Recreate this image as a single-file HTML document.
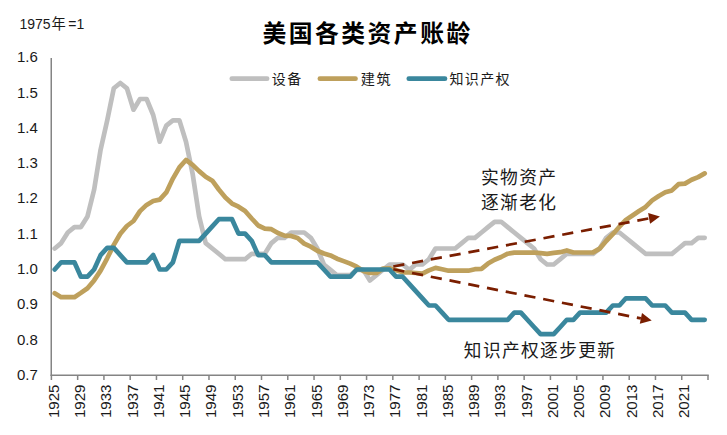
<!DOCTYPE html>
<html lang="zh"><head><meta charset="utf-8"><title>美国各类资产账龄</title>
<style>html,body{margin:0;padding:0;background:#fff;}body{width:727px;height:435px;overflow:hidden;font-family:"Liberation Sans",sans-serif;}</style>
</head><body>
<svg width="727" height="435" viewBox="0 0 727 435" style="display:block">
<rect width="727" height="435" fill="#fff"/>
<g stroke="#848484" stroke-width="1.5" fill="none"><path d="M51.25 58.0 V375.9" /><path d="M50.6 375.2 H708.8" /><path d="M51.40 375.2 v4.8M77.66 375.2 v4.8M103.93 375.2 v4.8M130.19 375.2 v4.8M156.46 375.2 v4.8M182.72 375.2 v4.8M208.98 375.2 v4.8M235.25 375.2 v4.8M261.51 375.2 v4.8M287.78 375.2 v4.8M314.04 375.2 v4.8M340.30 375.2 v4.8M366.57 375.2 v4.8M392.83 375.2 v4.8M419.10 375.2 v4.8M445.36 375.2 v4.8M471.62 375.2 v4.8M497.89 375.2 v4.8M524.15 375.2 v4.8M550.42 375.2 v4.8M576.68 375.2 v4.8M602.94 375.2 v4.8M629.21 375.2 v4.8M655.47 375.2 v4.8M681.74 375.2 v4.8M708.00 375.2 v4.8" /></g>
<g font-family="'Liberation Sans', sans-serif" font-size="15" fill="#1a1a1a" text-anchor="end">
<text x="37.76" y="62.33">1.6</text>
<text x="37.76" y="97.62">1.5</text>
<text x="37.76" y="132.90">1.4</text>
<text x="37.76" y="168.19">1.3</text>
<text x="37.76" y="203.47">1.2</text>
<text x="37.76" y="238.76">1.1</text>
<text x="37.76" y="274.04">1.0</text>
<text x="37.76" y="309.33">0.9</text>
<text x="37.76" y="344.61">0.8</text>
<text x="37.76" y="379.90">0.7</text>
</g>
<g font-family="'Liberation Sans', sans-serif" font-size="15.1" fill="#1a1a1a" text-anchor="end">
<text transform="translate(58.88,384.50) rotate(-90)">1925</text>
<text transform="translate(85.15,384.50) rotate(-90)">1929</text>
<text transform="translate(111.41,384.50) rotate(-90)">1933</text>
<text transform="translate(137.67,384.50) rotate(-90)">1937</text>
<text transform="translate(163.94,384.50) rotate(-90)">1941</text>
<text transform="translate(190.20,384.50) rotate(-90)">1945</text>
<text transform="translate(216.47,384.50) rotate(-90)">1949</text>
<text transform="translate(242.73,384.50) rotate(-90)">1953</text>
<text transform="translate(268.99,384.50) rotate(-90)">1957</text>
<text transform="translate(295.26,384.50) rotate(-90)">1961</text>
<text transform="translate(321.52,384.50) rotate(-90)">1965</text>
<text transform="translate(347.79,384.50) rotate(-90)">1969</text>
<text transform="translate(374.05,384.50) rotate(-90)">1973</text>
<text transform="translate(400.31,384.50) rotate(-90)">1977</text>
<text transform="translate(426.58,384.50) rotate(-90)">1981</text>
<text transform="translate(452.84,384.50) rotate(-90)">1985</text>
<text transform="translate(479.11,384.50) rotate(-90)">1989</text>
<text transform="translate(505.37,384.50) rotate(-90)">1993</text>
<text transform="translate(531.63,384.50) rotate(-90)">1997</text>
<text transform="translate(557.90,384.50) rotate(-90)">2001</text>
<text transform="translate(584.16,384.50) rotate(-90)">2005</text>
<text transform="translate(610.43,384.50) rotate(-90)">2009</text>
<text transform="translate(636.69,384.50) rotate(-90)">2013</text>
<text transform="translate(662.96,384.50) rotate(-90)">2017</text>
<text transform="translate(689.22,384.50) rotate(-90)">2021</text>
</g>
<polyline points="54.7,248.5 61.2,243.1 67.8,232.5 74.4,227.1 80.9,227.1 87.5,216.4 94.1,189.8 100.6,149.7 107.2,120.4 113.8,88.3 120.3,83.0 126.9,88.3 133.5,109.7 140.0,99.0 146.6,99.0 153.2,115.0 159.7,141.7 166.3,125.7 172.9,120.4 179.4,120.4 186.0,141.7 192.6,173.7 199.1,216.4 205.7,243.1 212.3,248.5 218.8,253.8 225.4,259.2 232.0,259.2 238.5,259.2 245.1,259.2 251.7,253.8 258.2,253.8 264.8,253.8 271.4,243.1 277.9,237.8 284.5,237.8 291.1,232.5 297.6,232.5 304.2,232.5 310.8,237.8 317.3,248.5 323.9,264.5 330.5,269.8 337.0,275.2 343.6,275.2 350.2,275.2 356.7,269.8 363.3,269.8 369.9,280.5 376.4,275.2 383.0,269.8 389.5,264.5 396.1,264.5 402.7,264.5 409.2,269.8 415.8,264.5 422.4,264.5 428.9,259.2 435.5,248.5 442.1,248.5 448.6,248.5 455.2,248.5 461.8,243.1 468.3,237.8 474.9,237.8 481.5,232.5 488.0,227.1 494.6,221.8 501.2,221.8 507.7,227.1 514.3,232.5 520.9,237.8 527.4,243.1 534.0,248.5 540.6,259.2 547.1,264.5 553.7,264.5 560.3,259.2 566.8,253.8 573.4,253.8 580.0,253.8 586.5,253.8 593.1,253.8 599.7,248.5 606.2,237.8 612.8,232.5 619.4,232.5 625.9,237.8 632.5,243.1 639.1,248.5 645.6,253.8 652.2,253.8 658.8,253.8 665.3,253.8 671.9,253.8 678.5,248.5 685.0,243.1 691.6,243.1 698.2,237.8 704.7,237.8" fill="none" stroke="#BFBFBF" stroke-width="4.7" stroke-linejoin="round" stroke-linecap="round"/>
<polyline points="54.7,293.2 61.2,297.2 67.8,297.2 74.4,297.2 80.9,292.9 87.5,288.3 94.1,280.4 100.6,270.6 107.2,258.3 113.8,244.9 120.3,233.8 126.9,226.0 133.5,221.0 140.0,211.1 146.6,204.9 153.2,201.0 159.7,199.6 166.3,192.4 172.9,178.6 179.4,167.3 186.0,160.0 192.6,164.9 199.1,171.1 205.7,176.7 212.3,180.7 218.8,189.5 225.4,197.6 232.0,203.6 238.5,206.7 245.1,211.0 251.7,218.5 258.2,225.5 264.8,228.6 271.4,229.2 277.9,233.0 284.5,235.6 291.1,235.9 297.6,238.0 304.2,243.6 310.8,246.7 317.3,250.8 323.9,253.5 330.5,255.4 337.0,258.7 343.6,261.1 350.2,263.6 356.7,266.7 363.3,270.9 369.9,273.0 376.4,273.0 383.0,268.5 389.5,268.3 396.1,270.2 402.7,272.3 409.2,272.5 415.8,273.0 422.4,273.6 428.9,270.4 435.5,267.9 442.1,269.2 448.6,270.7 455.2,270.7 461.8,270.7 468.3,270.7 474.9,269.2 481.5,268.8 488.0,263.6 494.6,259.7 501.2,257.0 507.7,253.7 514.3,252.6 520.9,252.6 527.4,252.6 534.0,252.5 540.6,253.1 547.1,253.8 553.7,252.9 560.3,252.2 566.8,250.4 573.4,252.5 580.0,252.5 586.5,252.5 593.1,252.4 599.7,248.6 606.2,241.0 612.8,234.2 619.4,226.7 625.9,219.9 632.5,215.5 639.1,211.0 645.6,206.9 652.2,200.4 658.8,196.0 665.3,192.3 671.9,190.4 678.5,184.2 685.0,183.6 691.6,179.8 698.2,177.1 704.7,173.4" fill="none" stroke="#BEA05C" stroke-width="4.7" stroke-linejoin="round" stroke-linecap="round"/>
<polyline points="54.7,269.5 61.2,262.3 67.8,262.3 74.4,262.3 80.9,276.7 87.5,276.7 94.1,269.5 100.6,255.1 107.2,247.9 113.8,247.9 120.3,255.1 126.9,262.3 133.5,262.3 140.0,262.3 146.6,262.3 153.2,255.1 159.7,269.5 166.3,269.5 172.9,262.3 179.4,240.8 186.0,240.8 192.6,240.8 199.1,240.8 205.7,233.6 212.3,226.4 218.8,219.2 225.4,219.2 232.0,219.2 238.5,233.6 245.1,233.6 251.7,240.8 258.2,255.1 264.8,255.1 271.4,262.3 277.9,262.3 284.5,262.3 291.1,262.3 297.6,262.3 304.2,262.3 310.8,262.3 317.3,262.3 323.9,269.5 330.5,276.7 337.0,276.7 343.6,276.7 350.2,276.7 356.7,269.5 363.3,269.5 369.9,269.5 376.4,269.5 383.0,269.5 389.5,269.5 396.1,276.7 402.7,276.7 409.2,283.9 415.8,291.1 422.4,298.3 428.9,305.5 435.5,305.5 442.1,312.6 448.6,319.8 455.2,319.8 461.8,319.8 468.3,319.8 474.9,319.8 481.5,319.8 488.0,319.8 494.6,319.8 501.2,319.8 507.7,319.8 514.3,312.6 520.9,312.6 527.4,319.8 534.0,327.0 540.6,334.2 547.1,334.2 553.7,334.2 560.3,327.0 566.8,319.8 573.4,319.8 580.0,312.6 586.5,312.6 593.1,312.6 599.7,312.6 606.2,312.6 612.8,305.5 619.4,305.5 625.9,298.3 632.5,298.3 639.1,298.3 645.6,298.3 652.2,305.5 658.8,305.5 665.3,305.5 671.9,312.6 678.5,312.6 685.0,312.6 691.6,319.8 698.2,319.8 704.7,319.8" fill="none" stroke="#3A879D" stroke-width="4.7" stroke-linejoin="round" stroke-linecap="round"/>
<path d="M393.3 266.5 L649.1 218.4" stroke="#7A1E00" stroke-width="2.7" stroke-dasharray="11.2 7.9" fill="none"/><path d="M659.9 216.4 L650.1 223.8 L648.1 213.0 Z" fill="#7A1E00"/>
<path d="M393.3 269.3 L640.9 318.4" stroke="#7A1E00" stroke-width="2.7" stroke-dasharray="11.2 7.9" fill="none"/><path d="M651.7 320.5 L639.8 323.8 L642.0 313.0 Z" fill="#7A1E00"/>
<path d="M231.8 78.7 H267.1" stroke="#BFBFBF" stroke-width="4.7" stroke-linecap="round"/>
<path d="M319.9 78.7 H355.5" stroke="#BEA05C" stroke-width="4.7" stroke-linecap="round"/>
<path d="M408.8 78.7 H445.0" stroke="#3A879D" stroke-width="4.7" stroke-linecap="round"/>
<g font-family="'Liberation Sans', 'Noto Sans CJK SC', sans-serif" fill="#1a1a1a">
<text x="271.80" y="83.80" font-size="14" letter-spacing="1.4">设备</text>
<text x="360.70" y="83.80" font-size="14.2" letter-spacing="1.7">建筑</text>
<text x="449.50" y="83.80" font-size="14" letter-spacing="1.33">知识产权</text>
<text x="262.4" y="41.50" font-size="23.8" font-weight="bold" letter-spacing="2.5" fill="#000">美国各类资产账龄</text>
<text x="480.90" y="184.35" font-size="17.8" letter-spacing="1.35">实物资产</text>
<text x="481.00" y="208.55" font-size="17.7" letter-spacing="1.4">逐渐老化</text>
<text x="463.85" y="356.85" font-size="17.7" letter-spacing="1.37">知识产权逐步更新</text>
<text y="28.70" font-size="14"><tspan x="19.40">1975</tspan><tspan x="51.40" font-size="14.3">年</tspan><tspan x="68.20">=</tspan><tspan x="76.40">1</tspan></text>
</g>
</svg>
</body></html>
